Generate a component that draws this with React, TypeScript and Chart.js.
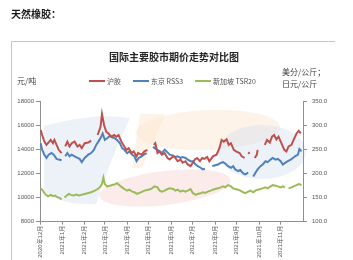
import React, { useEffect, useRef } from "react";
import { Chart, registerables } from "chart.js";

Chart.register(...registerables);

// x positions are days counted from 1 Dec 2020
const monthDays = [0, 31, 62, 90, 121, 151, 182, 212, 243, 273, 304, 334];
const monthLabels = [
  "2020年12月", "2021年1月", "2021年2月", "2021年3月", "2021年4月", "2021年5月",
  "2021年6月", "2021年7月", "2021年8月", "2021年9月", "2021年10月", "2021年11月",
];

const seriesNames = ["沪胶", "东京 RSS3", "新加坡 TSR20"];

// 沪胶 (元/吨, left axis) : [day, value]
const shfe: [number, number | null][] = [
  [1, 15620], [3, 15210], [6, 14660], [9, 14390], [11, 14530], [15, 14800], [18, 14530], [20, 14800],
  [23, 14390], [26, 13980], [30, 13710], [32, null], [35, 14260], [38, 14660], [41, 14260], [44, 14530],
  [48, 14660], [52, 14260], [55, 14390], [58, 14120], [62, 14530], [67, 14580], [71, 14750], [75, null],
  [80, 15210], [84, 15890], [86, 16950], [89, 16020], [92, 15480], [95, 15340], [99, 15070], [103, 15210],
  [106, 15070], [109, 15210], [113, 14660], [117, 14260], [120, 13980], [123, 14120], [127, 13710],
  [130, 13850], [134, 13440], [136, 13710], [141, 13580], [145, 13850], [149, 13980], [154, null],
  [158, 14390], [160, 14530], [163, 13710], [166, 13850], [169, 13580], [173, 13710], [177, 13300],
  [180, 13170], [185, 13440], [188, 13300], [191, 13030], [195, 13170], [198, 12900], [202, 13030],
  [205, 12760], [209, 12620], [215, 13170], [218, 13300], [222, 13030], [225, 13300], [228, 13220],
  [232, 13390], [235, 13030], [240, 13440], [245, 13580], [249, 14120], [252, 14800], [255, 14660],
  [259, 14850], [262, 14390], [265, 14530], [269, 13980], [272, 13850], [277, 13710], [280, 13440],
  [284, 13300], [286, null], [289, 13660], [291, 13770], [294, null], [298, 13300], [301, 13580],
  [302, 13980], [306, null], [312, 14390], [315, 14800], [319, 14580], [322, 15070], [325, 15210],
  [328, 14850], [331, 15070], [335, 14530], [339, 13980], [342, 13850], [345, 14260], [349, 14390],
  [352, 14800], [356, 15340], [359, 15560], [362, 15340],
];

// 东京 RSS3 (日元/公斤, right axis)
const rss3: [number, number | null][] = [
  [1, 263.2], [3, 249.6], [6, 239.4], [9, 232.6], [12, 239.4], [16, 242.8], [19, 239.4], [23, 230.6],
  [26, 229.2], [30, 227.8], [32, null], [35, 236], [38, 242.8], [41, 236], [44, 239.4], [48, 236],
  [52, 232.6], [55, 230.6], [58, 223.8], [62, 232.6], [67, 239.4], [71, 242.8], [75, 249.6], [78, 259.8],
  [81, 266.6], [85, 276.8], [87, 283.6], [90, 270], [93, 273.4], [97, 278.2], [100, 275.4], [104, 273.4],
  [107, 270], [111, 263.2], [114, 253], [117, 249.6], [121, 242.8], [124, 246.2], [128, 239.4], [131, 236],
  [134, 225.8], [137, 232.6], [141, 236], [144, 239.4], [148, 242.8], [153, null], [157, 256.4],
  [159, 253], [163, 249.6], [166, 246.2], [169, 242.8], [173, 249.6], [177, 244.2], [180, 239.4],
  [185, 237.4], [188, 234.6], [191, 236], [195, 232.6], [198, 234.6], [202, 232.6], [205, 229.2],
  [209, 225.8], [212, 225.8], [216, 219], [219, 215.6], [223, 212.2], [226, 208.8], [229, 210.2],
  [233, null], [239, 215.6], [242, 217], [247, 219], [251, 222.4], [254, 223.8], [257, 221], [261, 215.6],
  [265, 212.2], [268, 215.6], [271, 208.8], [275, 205.4], [278, 207.4], [282, 200.6], [285, 198.6],
  [289, 202], [292, null], [296, 193.8], [299, 202], [302, 208.8], [306, 215.6], [309, 219], [313, 225.8],
  [316, 223.8], [320, 229.2], [323, 232.6], [327, 229.2], [330, 230.6], [334, 225.8], [337, 219],
  [340, 222.4], [344, 225.8], [348, 229.2], [351, 232.6], [354, 236], [358, 239.4], [360, 251], [363, 246.2],
];

// 新加坡 TSR20 (美分/公斤, right axis)
const tsr20: [number, number | null][] = [
  [1, 169.4], [4, 164.6], [7, 157.8], [11, 153], [15, 155.8], [18, 153], [21, 154.4], [24, 151],
  [27, 149.6], [30, 146.2], [31, null], [34, 150], [37, 154.4], [40, 157.8], [43, 155.8], [47, 154.4],
  [50, 156.4], [54, 154.4], [57, 155.8], [62, 157.8], [67, 159.8], [71, 161.2], [76, 164.6], [80, 168],
  [83, 171.4], [86, 178.2], [88, 191.8], [90, 178.2], [93, 173.4], [97, 174.8], [100, 176.2], [104, 177.6],
  [107, 180.2], [111, 174.8], [114, 171.4], [117, 168], [121, 164.6], [124, 166.6], [128, 162.6],
  [131, 161.2], [135, 157.8], [138, 159.8], [142, 162.6], [145, 164.6], [150, 166.6], [154, 168],
  [159, 173.4], [163, 171.4], [166, 164.6], [169, 162.6], [173, 164.6], [177, 168], [180, 169.4],
  [185, 168], [188, 164.6], [191, 166.6], [195, 162.6], [198, 164.6], [202, 162.6], [205, 164.6],
  [209, 168], [212, 159.8], [216, 155.8], [219, 157.8], [223, 159.2], [226, 161.2], [229, 159.8],
  [233, 162.6], [237, 164.6], [240, 166.6], [243, 168], [247, 169.4], [251, 171.4], [254, 173.4],
  [257, 171.4], [261, 176.2], [265, 173.4], [268, 169.4], [271, 168], [275, 166.6], [278, 164.6],
  [282, 161.2], [285, 159.2], [289, 162.6], [292, 164.6], [296, 161.2], [299, 164.6], [302, 166.6],
  [306, 168], [309, 169.4], [313, 171.4], [316, 169.4], [320, 173.4], [323, 176.2], [327, 174.8],
  [330, 173.4], [334, 171.4], [337, 173.4], [340, 171.4], [343, null], [345, 169.4], [349, 171.4],
  [352, 173.4], [356, 176.2], [359, 178.2], [363, 176.2],
];

const colors = ["#C0504D", "#4F81BD", "#9BBB59"];
const CJK = '"Noto Sans CJK SC", "Noto Sans", sans-serif';
const TICK_FONT = '"Liberation Sans", "Noto Sans CJK SC", sans-serif';

const toPoints = (arr: [number, number | null][]) => arr.map(([x, y]) => ({ x, y }));

const decorPlugin = {
  id: "decor",
  beforeDraw(chart: any) {
    const ctx = chart.ctx as CanvasRenderingContext2D;
    ctx.save();
    ctx.fillStyle = "#ffffff";
    ctx.fillRect(0, 0, chart.width, chart.height);

    // heading
    ctx.fillStyle = "#1a1a1a";
    ctx.font = `bold 10px ${CJK}`;
    ctx.textBaseline = "middle";
    ctx.textAlign = "left";
    ctx.fillText("天然橡胶：", 11, 14);

    // picture frame
    ctx.strokeStyle = "#c6c6c6";
    ctx.lineWidth = 1;
    ctx.beginPath();
    ctx.moveTo(11.5, 262);
    ctx.lineTo(11.5, 41.5);
    ctx.lineTo(335, 41.5);
    ctx.stroke();

    // faint watermark swooshes
    ctx.fillStyle = "rgba(214,224,240,0.45)";
    ctx.beginPath();
    ctx.moveTo(44, 126);
    ctx.quadraticCurveTo(95, 112, 130, 118);
    ctx.quadraticCurveTo(108, 165, 96, 204);
    ctx.quadraticCurveTo(60, 206, 44, 190);
    ctx.closePath();
    ctx.fill();

    ctx.fillStyle = "rgba(251,232,210,0.5)";
    ctx.beginPath();
    ctx.ellipse(208, 130, 72, 20, -0.04, 0, Math.PI * 2);
    ctx.fill();
    ctx.beginPath();
    ctx.moveTo(140, 114);
    ctx.lineTo(165, 114);
    ctx.lineTo(142, 168);
    ctx.lineTo(132, 168);
    ctx.closePath();
    ctx.fill();

    ctx.fillStyle = "rgba(248,216,214,0.5)";
    ctx.beginPath();
    ctx.ellipse(165, 188, 66, 17, -0.12, 0, Math.PI * 2);
    ctx.fill();

    ctx.fillStyle = "rgba(214,224,240,0.45)";
    ctx.beginPath();
    ctx.ellipse(262, 152, 44, 27, 0, 0, Math.PI * 2);
    ctx.fill();
    ctx.restore();
  },
  afterDraw(chart: any) {
    const ctx = chart.ctx as CanvasRenderingContext2D;
    ctx.save();
    ctx.textBaseline = "middle";

    // title
    ctx.fillStyle = "#262626";
    ctx.font = `bold 10px ${CJK}`;
    ctx.textAlign = "center";
    ctx.fillText("国际主要胶市期价走势对比图", 174, 57);

    // unit labels
    ctx.fillStyle = "#404040";
    ctx.font = `8px ${CJK}`;
    ctx.textAlign = "left";
    ctx.fillText("元/吨", 17, 81);
    ctx.fillText("美分/公斤；", 282, 72);
    ctx.fillText("日元/公斤", 282, 84);

    // legend
    ctx.font = `7px ${CJK}`;
    let x = 89;
    const y = 81;
    chart.data.datasets.forEach((ds: any) => {
      ctx.strokeStyle = ds.borderColor;
      ctx.lineWidth = 2;
      ctx.beginPath();
      ctx.moveTo(x, y);
      ctx.lineTo(x + 16, y);
      ctx.stroke();
      x += 18;
      ctx.fillStyle = "#505050";
      ctx.fillText(ds.label, x, y);
      x += ctx.measureText(ds.label).width + 12;
    });
    ctx.restore();
  },
};

export default function App() {
  const ref = useRef<HTMLCanvasElement>(null);

  useEffect(() => {
    if (!ref.current) return;
    const axisColor = "#8f8f8f";
    const chart = new Chart(ref.current, {
      type: "line",
      data: {
        datasets: [
          { label: seriesNames[0], data: toPoints(shfe), yAxisID: "y" },
          { label: seriesNames[1], data: toPoints(rss3), yAxisID: "y1" },
          { label: seriesNames[2], data: toPoints(tsr20), yAxisID: "y1" },
        ].map((d, i) => ({
          ...d,
          borderColor: colors[i],
          backgroundColor: colors[i],
          borderWidth: 2,
          pointRadius: 0,
          tension: 0,
          spanGaps: false,
        })),
      },
      options: {
        animation: false,
        responsive: false,
        devicePixelRatio: 1,
        layout: { padding: { top: 101.5, left: 0, right: 0, bottom: 0 } },
        plugins: {
          legend: { display: false },
          title: { display: false },
          tooltip: { enabled: false },
        },
        scales: {
          x: {
            type: "linear",
            min: 0,
            max: 365,
            afterBuildTicks: (s: any) => {
              s.ticks = monthDays.map((v) => ({ value: v }));
            },
            afterFit: (s: any) => {
              s.height = 38.3;
            },
            grid: { drawOnChartArea: false, drawTicks: true, tickLength: 3, color: axisColor },
            border: { color: axisColor },
            ticks: {
              autoSkip: false,
              minRotation: 90,
              maxRotation: 90,
              padding: 1,
              color: "#555555",
              font: { size: 6, family: TICK_FONT },
              callback: (v: any) => {
                const i = monthDays.indexOf(Number(v));
                return i >= 0 ? monthLabels[i] : "";
              },
            },
          },
          y: {
            position: "left",
            min: 8000,
            max: 18000,
            afterFit: (s: any) => {
              s.width = 40;
            },
            grid: { drawOnChartArea: false, drawTicks: true, tickLength: 4, color: axisColor },
            border: { color: axisColor },
            ticks: {
              stepSize: 2000,
              padding: 2,
              color: "#555555",
              font: { size: 6, family: TICK_FONT },
              callback: (v: any) => String(v),
            },
          },
          y1: {
            position: "right",
            min: 100,
            max: 350,
            afterFit: (s: any) => {
              s.width = 50;
            },
            grid: { drawOnChartArea: false, drawTicks: true, tickLength: 4, color: axisColor },
            border: { color: axisColor },
            ticks: {
              stepSize: 50,
              padding: 5,
              color: "#555555",
              font: { size: 6, family: TICK_FONT },
              callback: (v: any) => Number(v).toFixed(1),
            },
          },
        },
      },
      plugins: [decorPlugin],
    } as any);
    return () => chart.destroy();
  }, []);

  return (
    <div style={{ position: "fixed", left: 0, top: 0, width: 353, height: 260, background: "#fff" }}>
      <canvas ref={ref} width={353} height={260} style={{ display: "block" }} />
    </div>
  );
}
